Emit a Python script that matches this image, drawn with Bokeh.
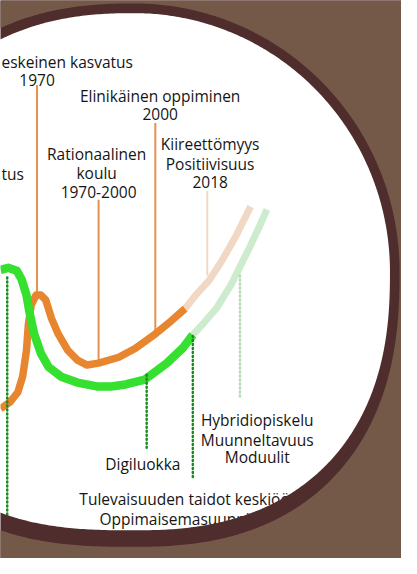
import numpy as np
from bokeh.plotting import figure
from bokeh.models import Range1d
from bokeh.core.properties import value
from bokeh.embed import file_html
from bokeh.resources import INLINE

# ---- data (picture units: x to the right, y downward) ----
orange_x = [0, 10, 18, 23, 27, 29, 32, 37, 42, 47, 53, 60, 70, 80, 90, 102, 123, 140, 161, 177, 192]
orange_y = [420, 413, 403, 387, 360, 333, 313, 303, 303, 308, 327, 343, 360, 370, 375, 373, 367, 358, 343, 330, 317]
orange_fade_x = [192, 203, 217, 230, 245, 260]
orange_fade_y = [317, 303, 288, 268, 242, 212]

green_x = [0, 8, 17, 22, 27, 30, 35, 42, 50, 63, 80, 100, 115, 130, 150, 173, 190, 200]
green_y = [277, 275, 278, 287, 303, 320, 343, 363, 377, 387, 393, 397, 397, 395, 390, 373, 357, 344]
green_fade_x = [200, 212, 225, 240, 250, 260, 269, 277]
green_fade_y = [344, 331, 316, 292, 272, 252, 233, 215]

# orange marker lines (year labels)
mark_x = [38, 102, 161]
mark_top = [87, 205, 126]
mark_bottom = [303, 373, 343]
mark_fade_x = [215]
mark_fade_top = [196]
mark_fade_bottom = [283]

# green dotted marker lines
dot_x = [7, 152, 200]
dot_top = [285, 385, 345]
dot_bottom = [531, 460, 492]
dot_fade_x = [249]
dot_fade_top = [283]
dot_fade_bottom = [410]

# centred labels
c_text = ["1970",
          "Elinikäinen oppiminen", "2000",
          "Rationaalinen", "koulu", "1970-2000",
          "Kiireettömyys", "Positiivisuus", "2018",
          "Hybridiopiskelu", "Muunneltavuus", "Moduulit",
          "Digiluokka"]
c_x = [38, 166, 166, 100, 100, 102, 218, 218, 218, 267, 267, 267, 148]
c_y = [82, 98, 117, 158, 177, 197, 148, 168, 187, 432, 452, 470, 477]

# left aligned labels
l_text = ["eskeinen kasvatus", "tus", "Tulevaisuuden taidot keskiöön", "Oppimaisemasuunnittelu"]
l_x = [1, 1, 82, 103]
l_y = [63, 178, 513, 533]

# ---- colours / frame shape ----
BROWN = "#755948"
DARK = "#502d2d"
ORANGE = "#e8852f"
GREEN = "#35e02f"
ORANGE_FADE = "#f0d8c4"
GREEN_FADE = "#cdeccd"
DOTGREEN = "#1f8a25"
TEXT = "#151515"

# rounded frame: centre, semi-axes (left, right, top, bottom), squareness per quadrant
FR_C = (139, 279)
FR_INNER = (266, 266, 266, 266)
FR_OUTER = (277, 276, 276, 283)
FR_N = {"ul": 2.33, "ur": 2.0, "ll": 2.7, "lr": 2.4}


def frame_outline(axes):
    al, ar, bt, bb = axes
    t = np.linspace(0, 2 * np.pi, 721)[:-1]
    c, s = np.cos(t), np.sin(t)
    right = c >= 0
    lower = s >= 0
    n = np.where(right & ~lower, FR_N["ur"],
        np.where(right & lower, FR_N["lr"],
        np.where(~right & lower, FR_N["ll"], FR_N["ul"])))
    ax = np.where(right, ar, al)
    by = np.where(lower, bb, bt)
    x = FR_C[0] + ax * np.sign(c) * np.abs(c) ** (2 / n)
    y = FR_C[1] + by * np.sign(s) * np.abs(s) ** (2 / n)
    return list(x[::-1]), list(y[::-1])


def mask(axes):
    hx, hy = frame_outline(axes)
    ex = [-60, 480, 480, -60]
    ey = [-60, -60, 640, 640]
    return [[[ex, hx]]], [[[ey, hy]]]


p = figure(width=401, height=558, output_backend="svg", toolbar_location=None,
           x_range=Range1d(0, 417), y_range=Range1d(574, 0),
           min_border=0, background_fill_color="white",
           border_fill_color=BROWN)
p.axis.visible = False
p.grid.visible = False
p.outline_line_color = None

# thin orange marker lines
p.segment(x0=mark_x, y0=mark_top, x1=mark_x, y1=mark_bottom,
          line_color="#e3914c", line_width=2)
p.segment(x0=mark_fade_x, y0=mark_fade_top, x1=mark_fade_x, y1=mark_fade_bottom,
          line_color=ORANGE_FADE, line_width=2)

# curves
p.line(orange_fade_x, orange_fade_y, line_color=ORANGE_FADE, line_width=7, line_cap="butt")
p.line(green_fade_x, green_fade_y, line_color=GREEN_FADE, line_width=7, line_cap="butt")
p.line(orange_x, orange_y, line_color=ORANGE, line_width=7.5, line_join="round")
p.line(green_x, green_y, line_color=GREEN, line_width=8.5, line_join="round")

# dotted green marker lines
p.segment(x0=dot_x, y0=dot_top, x1=dot_x, y1=dot_bottom, line_color=DOTGREEN,
          line_width=2.5, line_dash="1 3", line_cap="round")
p.segment(x0=dot_fade_x, y0=dot_fade_top, x1=dot_fade_x, y1=dot_fade_bottom,
          line_color="#b5dcb5", line_width=2.5, line_dash="1 3", line_cap="round")

font = value("Open Sans")
fsize = value("15.5px")
p.text(x=c_x, y=c_y, text=c_text, text_align="center", text_baseline="alphabetic",
       text_font=font, text_font_size=fsize, text_color=TEXT)
p.text(x=l_x, y=l_y, text=l_text, text_align="left", text_baseline="alphabetic",
       text_font=font, text_font_size=fsize, text_color=TEXT)

# dark rim, then brown surround
mx, my = mask(FR_INNER)
p.multi_polygons(xs=mx, ys=my, fill_color=DARK, line_color=None)
mx, my = mask(FR_OUTER)
p.multi_polygons(xs=mx, ys=my, fill_color=BROWN, line_color=None)

open("out.html", "w").write(file_html(p, INLINE))
